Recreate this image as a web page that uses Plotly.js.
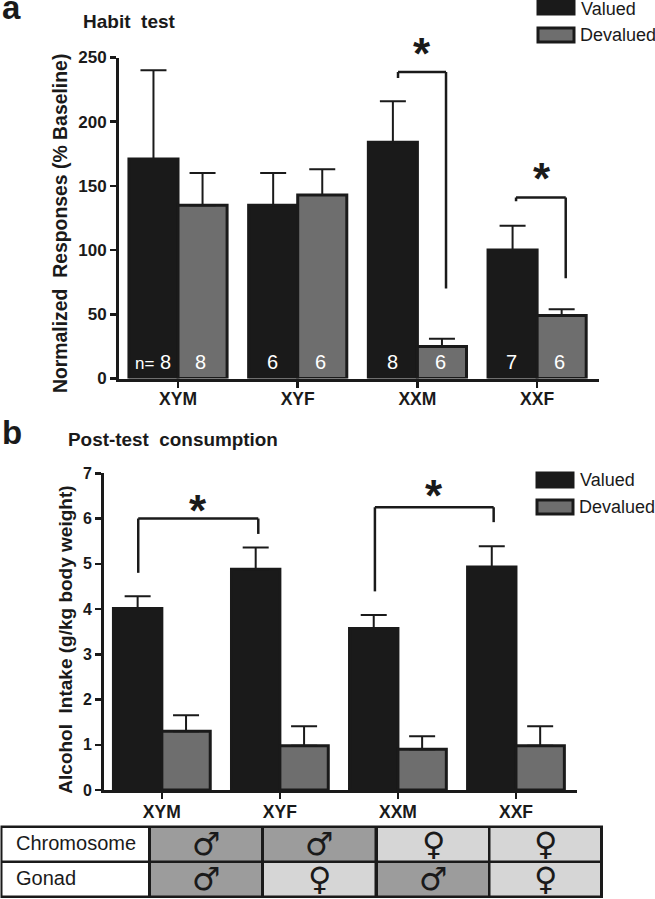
<!DOCTYPE html>
<html>
<head>
<meta charset="utf-8">
<script src="https://cdn.plot.ly/plotly-3.0.1.min.js"></script>
<style>html,body{margin:0;padding:0;background:#fff}#chart{width:655px;height:899px}</style>
</head>
<body>
<div id="chart"></div>
<script>
const groups = ['XYM', 'XYF', 'XXM', 'XXF'];

const habitValued = [171, 135, 184, 100];
const habitValuedErr = [69, 25, 32, 19];
const habitDevalued = [135, 143, 25, 49];
const habitDevaluedErr = [25, 20, 6, 5];
const habitNValued = [8, 6, 8, 7];
const habitNDevalued = [8, 6, 6, 6];

const intakeValued = [4.01, 4.88, 3.57, 4.93];
const intakeValuedErr = [0.27, 0.48, 0.30, 0.46];
const intakeDevalued = [1.30, 0.98, 0.90, 0.98];
const intakeDevaluedErr = [0.35, 0.43, 0.29, 0.43];

const chromosomeSex = ['♂', '♂', '♀', '♀'];
const gonadSex = ['♂', '♀', '♂', '♀'];

const W = 655, H = 899;
const INK = '#1a1a1a', GREY = '#6e6e6e', MALE = '#9c9c9c', FEMALE = '#d6d6d6';
const FONT = 'Liberation Sans, Arial, sans-serif';
const px = v => v / W;
const py = v => 1 - v / H;

function barTrace(name, y, err, color, xa, ya) {
  return {
    type: 'bar', name, x: groups, y, xaxis: xa, yaxis: ya,
    marker: {color, line: {color: INK, width: 3}},
    error_y: {type: 'data', symmetric: false, array: err, arrayminus: err.map(() => 0),
              color: INK, thickness: 2, width: 13},
    showlegend: false, hoverinfo: 'x+y+name'
  };
}

const data = [
  barTrace('Valued', habitValued, habitValuedErr, INK, 'x', 'y'),
  barTrace('Devalued', habitDevalued, habitDevaluedErr, GREY, 'x', 'y'),
  barTrace('Valued', intakeValued, intakeValuedErr, INK, 'x2', 'y2'),
  barTrace('Devalued', intakeDevalued, intakeDevaluedErr, GREY, 'x2', 'y2')
];

const shapes = [];
const annotations = [];

function dataLine(xa, ya, x0, y0, x1, y1) {
  shapes.push({type: 'line', xref: xa, yref: ya, x0, y0, x1, y1,
               line: {color: INK, width: 2.5}});
}
function bracket(xa, ya, x0, yEnd0, yTop, x1, yEnd1) {
  dataLine(xa, ya, x0, yEnd0, x0, yTop);
  dataLine(xa, ya, x0, yTop, x1, yTop);
  dataLine(xa, ya, x1, yTop, x1, yEnd1);
}
function text(str, x, y, size, opts) {
  annotations.push(Object.assign({
    text: str, xref: 'paper', yref: 'paper', x: px(x), y: py(y),
    xanchor: 'left', yanchor: 'middle', showarrow: false,
    font: {family: FONT, size, color: INK}
  }, opts || {}));
}
function star(x, y) {
  text('<b>*</b>', x, y, 44, {xanchor: 'center'});
}
function rect(x0, y0, x1, y1, fill, lineW) {
  shapes.push({type: 'rect', xref: 'paper', yref: 'paper',
    x0: px(x0), x1: px(x1), y0: py(y0), y1: py(y1),
    fillcolor: fill, line: {color: INK, width: lineW}});
}
function legendAt(x, y1, y2, yText1) {
  rect(x, y1 - 7, x + 36, y1 + 7, INK, 3);
  rect(x, y2 - 7, x + 36, y2 + 7, GREY, 3);
  text('Valued', x + 41, yText1, 18);
  text('Devalued', x + 40, y2, 18);
}

/* panel a */
bracket('x', 'y', 1.838, 234, 238.7, 2.239, 70);
bracket('x', 'y', 2.824, 138, 141, 3.239, 78);
star(421.7, 54);
star(541.7, 178);
text('<b>a</b>', 0, 7, 33);
text('<b>Habit&nbsp;&nbsp;test</b>', 81, 21, 19);
legendAt(538, 7, 35, 9);
groups.forEach((g, i) => {
  const nLabel = i === 0 ? '<span style="font-size:17px">n=</span> ' + habitNValued[i] : String(habitNValued[i]);
  annotations.push({text: nLabel, xref: 'x', yref: 'y', x: i - 0.21, y: 13,
    showarrow: false, yanchor: 'middle', font: {family: FONT, size: 20, color: '#fff'}});
  annotations.push({text: String(habitNDevalued[i]), xref: 'x', yref: 'y', x: i + 0.19, y: 13,
    showarrow: false, yanchor: 'middle', font: {family: FONT, size: 20, color: '#fff'}});
});

/* panel b */
bracket('x2', 'y2', -0.2, 4.8, 6.0, 0.817, 5.66);
bracket('x2', 'y2', 1.805, 4.39, 6.25, 2.811, 5.92);
star(198, 511);
star(434, 495);
text('<b>b</b>', 0, 432, 33);
text('<b>Post-test&nbsp;&nbsp;consumption</b>', 66, 439, 18.9);
legendAt(537, 480, 507, 480);

/* sex-assignment table */
const colX = [[151, 261], [264, 374.5], [378, 488], [490.5, 600]];
const rows = [
  {label: 'Chromosome', sex: chromosomeSex, y0: 828, y1: 860.5},
  {label: 'Gonad', sex: gonadSex, y0: 863, y1: 895.5}
];
rect(0.5, 825.5, 603, 898, INK, 0);
rows.forEach(r => {
  rect(2.5, r.y0, 148, r.y1, '#ffffff', 0);
  text(r.label, 14, (r.y0 + r.y1) / 2 - 1, 20);
  r.sex.forEach((s, i) => {
    rect(colX[i][0], r.y0, colX[i][1], r.y1, s === '♂' ? MALE : FEMALE, 0);
    text(s, (colX[i][0] + colX[i][1]) / 2, (r.y0 + r.y1) / 2, 32,
      {xanchor: 'center', font: {family: 'DejaVu Sans', size: 32, color: INK}});
  });
});

function xAxis(domain, range, anchor, standoff) {
  return {domain, range, anchor, type: 'category', categoryorder: 'array', categoryarray: groups,
    showline: true, linecolor: INK, linewidth: 3, ticks: 'outside', ticklen: 6, tickwidth: 2.5,
    tickcolor: INK, showgrid: false, zeroline: false, ticklabelstandoff: standoff,
    tickfont: {family: FONT, size: 17.5, color: INK, weight: 'bold'}};
}
function yAxis(domain, range, dtick, anchor, title, tsize, standoff, tick) {
  return {domain, range, dtick, anchor, showline: true, linecolor: INK, linewidth: 3,
    ticks: 'outside', ticklen: 6, tickwidth: 2.5, tickcolor: INK, showgrid: false, zeroline: false,
    tickfont: {family: FONT, size: tick, color: INK, weight: 'bold'},
    title: {text: title, standoff, font: {family: FONT, size: tsize, color: INK, weight: 'bold'}}};
}

const layout = {
  width: W, height: H,
  margin: {l: 0, r: 0, t: 0, b: 0, pad: 0},
  paper_bgcolor: '#fff', plot_bgcolor: '#fff',
  barmode: 'group', bargap: 0.18, bargroupgap: 0,
  font: {family: FONT, color: INK},
  xaxis: xAxis([px(119), px(599)], [-0.493, 3.517], 'y', -4),
  yaxis: yAxis([py(378.5), py(57.5)], [0, 250], 50, 'x', 'Normalized&nbsp;&nbsp;Responses (% Baseline)&nbsp;&nbsp;', 19.4, 6, 17),
  xaxis2: xAxis([px(104), px(577)], [-0.49, 3.517], 'y2', -2),
  yaxis2: yAxis([py(790), py(473.3)], [0, 7], 1, 'x2', 'Alcohol&nbsp;&nbsp;Intake (g/kg body weight)&nbsp;&nbsp;&nbsp;', 19, 6, 16),
  shapes, annotations
};

Plotly.newPlot('chart', data, layout, {displayModeBar: false, staticPlot: true});
</script>
</body>
</html>
